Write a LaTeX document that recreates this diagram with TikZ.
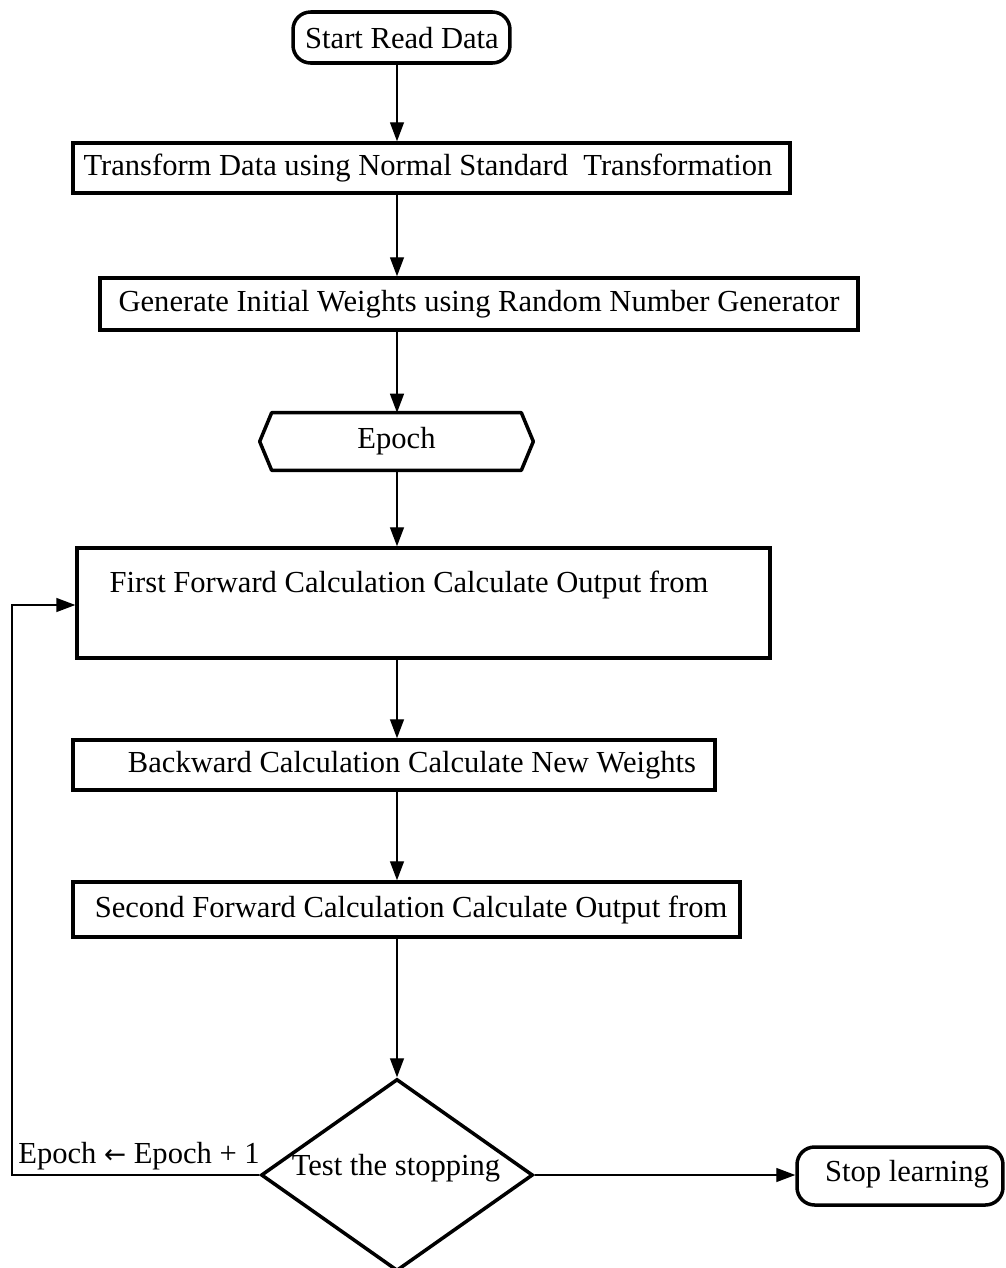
\documentclass[tikz,border=0pt]{standalone}
\usepackage{fontspec}
\setmainfont{Liberation Serif}
\newfontfamily\arrowfont{DejaVu Sans}
\usetikzlibrary{arrows.meta,shapes.geometric}
\begin{document}
\begin{tikzpicture}[x=0.02cm,y=-0.02cm,
  every node/.style={font=\fontsize{17.4}{20}\selectfont},
  procbox/.style={draw,line width=2pt,rectangle,inner sep=0pt},
  termbox/.style={draw,line width=2pt,rectangle,rounded corners=10pt,inner sep=0pt},
  decbox/.style={draw,line width=2pt,diamond,inner sep=0pt,aspect=1.42},
  flow/.style={line width=0.8pt,-{Triangle[length=0.38cm,width=0.28cm]}}]
\useasboundingbox (0,0) rectangle (1006,1268);
% main column
\coordinate (spine) at (397,0);
\node[termbox,minimum width=4.34cm,minimum height=1.02cm] (start) at (401.5,37.5) {};
\node (starttext) at (402,38) {Start Read Data};
\node[procbox,minimum width=14.34cm,minimum height=1.0cm] (transform) at (431.5,168) {};
\node (transformtext) at (428,168) {Transform Data using Normal Standard\ \ Transformation};
\node[procbox,minimum width=15.16cm,minimum height=1.04cm] (generate) at (479,304) {};
\node (generatetext) at (479,304) {Generate Initial Weights using Random Number Generator};
% epoch loop header (hexagon)
\node[minimum width=5.46cm,minimum height=1.14cm,inner sep=0pt] (epoch) at (396.5,441.5) {Epoch};
\draw[line width=2pt,line join=round]
  (epoch.west) -- ([xshift=0.24cm]epoch.north west) -- ([xshift=-0.24cm]epoch.north east)
  -- (epoch.east) -- ([xshift=-0.24cm]epoch.south east) -- ([xshift=0.24cm]epoch.south west) -- cycle;
\node[procbox,minimum width=13.86cm,minimum height=2.2cm] (ffwd) at (423.5,603) {};
\node (ffwdtext) at (409,585) {First Forward Calculation Calculate Output from};
\node[procbox,minimum width=12.84cm,minimum height=1.0cm] (bwd) at (394,765) {};
\node (bwdtext) at (412,765) {Backward Calculation Calculate New Weights};
\node[procbox,minimum width=13.34cm,minimum height=1.1cm] (sfwd) at (406.5,909.5) {};
\node (sfwdtext) at (411,910) {Second Forward Calculation Calculate Output from};
\node[decbox,minimum width=5.44cm,minimum height=3.84cm] (test) at (397,1175) {};
\node (testtext) at (396,1168) {Test the stopping};
\node[termbox,minimum width=4.12cm,minimum height=1.16cm] (stop) at (900,1176) {};
\node (stoptext) at (907,1174) {Stop learning};
% connectors
\draw[flow] (start.south -| spine) -- (transform.north -| spine);
\draw[flow] (transform.south -| spine) -- (generate.north -| spine);
\draw[flow] (generate.south -| spine) -- (epoch.north -| spine);
\draw[flow] (epoch.south -| spine) -- (ffwd.north -| spine);
\draw[flow] (ffwd.south -| spine) -- (bwd.north -| spine);
\draw[flow] (bwd.south -| spine) -- (sfwd.north -| spine);
\draw[flow] (sfwd.south -| spine) -- (test.north);
\draw[flow] (test.east) -- (test.east -| stop.west);
% return path to the next epoch
\coordinate (loopx) at (12,0);
\draw[flow] (test.west) -- (test.west -| loopx) -- (0,605 -| loopx) -- (0,605 -| ffwd.west);
\node[anchor=base west,inner sep=0pt] (inc) at (18,1163) {Epoch {\arrowfont\fontsize{15}{18}\selectfont ←} Epoch + 1};
\end{tikzpicture}
\end{document}
